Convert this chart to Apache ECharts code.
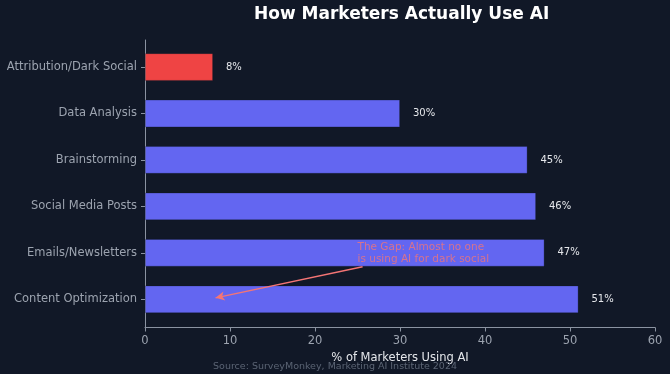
<!DOCTYPE html>
<html>
<head>
<meta charset="utf-8">
<script src="https://cdn.jsdelivr.net/npm/echarts@6/dist/echarts.min.js"></script>
<style>
html,body{margin:0;padding:0;background:#111827;}
#chart{width:670px;height:374px;}
</style>
</head>
<body>
<div id="chart"></div>
<script>
const categories = ['Attribution/Dark Social', 'Data Analysis', 'Brainstorming', 'Social Media Posts', 'Emails/Newsletters', 'Content Optimization'];
const values = [8, 30, 45, 46, 47, 51];
const highlightCategory = 'Attribution/Dark Social';
const xTicks = [0, 10, 20, 30, 40, 50, 60];
const annotationText = 'The Gap: Almost no one\nis using AI for dark social';
const annotationTextAt = [25, 4.26];
const arrowFrom = [25.6, 4.3];
const arrowTo = [8.3, 4.97];

const FONT = 'DejaVu Sans';
const chart = echarts.init(document.getElementById('chart'), null, {renderer: 'canvas'});

const option = {
  backgroundColor: '#111827',
  animation: false,
  title: [
    {
      text: 'How Marketers Actually Use AI',
      left: 254, top: 6, padding: 0,
      textStyle: {color: '#ffffff', fontFamily: FONT, fontWeight: 'bold', fontSize: 17}
    },
    {
      text: 'Source: SurveyMonkey, Marketing AI Institute 2024',
      left: 'center', top: 362, padding: 0,
      textStyle: {color: '#5b6474', fontFamily: FONT, fontWeight: 'normal', fontSize: 9.5}
    }
  ],
  grid: [
    {left: 145, right: 15, top: 40, height: 287.5},
    {left: 145, right: 15, top: 43.8, height: 278.7}
  ],
  xAxis: [
    {
      gridIndex: 0, type: 'value', min: xTicks[0], max: xTicks[xTicks.length - 1], interval: 10,
      name: '% of Marketers Using AI', nameLocation: 'middle', nameGap: 25,
      nameTextStyle: {color: '#e5e7eb', fontFamily: FONT, fontSize: 11.5},
      axisLine: {show: true, onZero: false, lineStyle: {color: '#8b93a1', width: 1}},
      axisTick: {show: true, length: 4, lineStyle: {color: '#8b93a1'}},
      axisLabel: {color: '#9ca3af', fontFamily: FONT, fontSize: 11.5, margin: 8},
      splitLine: {show: false}
    },
    {
      gridIndex: 1, type: 'value', min: xTicks[0], max: xTicks[xTicks.length - 1], show: false
    }
  ],
  yAxis: [
    {
      gridIndex: 0, type: 'value', inverse: true, min: -0.581, max: 5.608,
      axisLine: {show: true, onZero: false, lineStyle: {color: '#8b93a1', width: 1}},
      axisTick: {show: false}, axisLabel: {show: false}, splitLine: {show: false}
    },
    {
      gridIndex: 1, type: 'category', inverse: true, data: categories,
      axisLine: {show: false},
      axisTick: {show: true, alignWithLabel: true, length: 4, lineStyle: {color: '#8b93a1'}},
      axisLabel: {color: '#9ca3af', fontFamily: FONT, fontSize: 11.5, margin: 8}
    }
  ],
  series: [
    {
      type: 'bar', xAxisIndex: 1, yAxisIndex: 1,
      data: values, barWidth: 27.6,
      itemStyle: {
        color: p => p.name === highlightCategory ? '#ef4444' : '#6366f1',
        borderColor: 'rgba(17,24,39,0.35)', borderWidth: 0.8
      },
      label: {
        show: true, position: 'right', distance: 13,
        formatter: p => p.value + '%',
        color: '#e5e7eb', fontFamily: FONT, fontSize: 10
      }
    },
    {
      type: 'scatter', xAxisIndex: 0, yAxisIndex: 0,
      data: [annotationTextAt], symbolSize: 0, silent: true,
      label: {
        show: true, position: [0, 0], align: 'left', verticalAlign: 'bottom',
        formatter: annotationText, color: '#f47575', fontFamily: FONT, fontSize: 10.5, lineHeight: 12
      },
      markLine: {
        silent: true, symbol: ['none', 'arrow'], symbolSize: [7, 9],
        label: {show: false},
        lineStyle: {color: '#f47575', width: 1.5, type: 'solid'},
        data: [[{coord: arrowFrom}, {coord: arrowTo}]]
      }
    }
  ]
};
chart.setOption(option);
</script>
</body>
</html>
